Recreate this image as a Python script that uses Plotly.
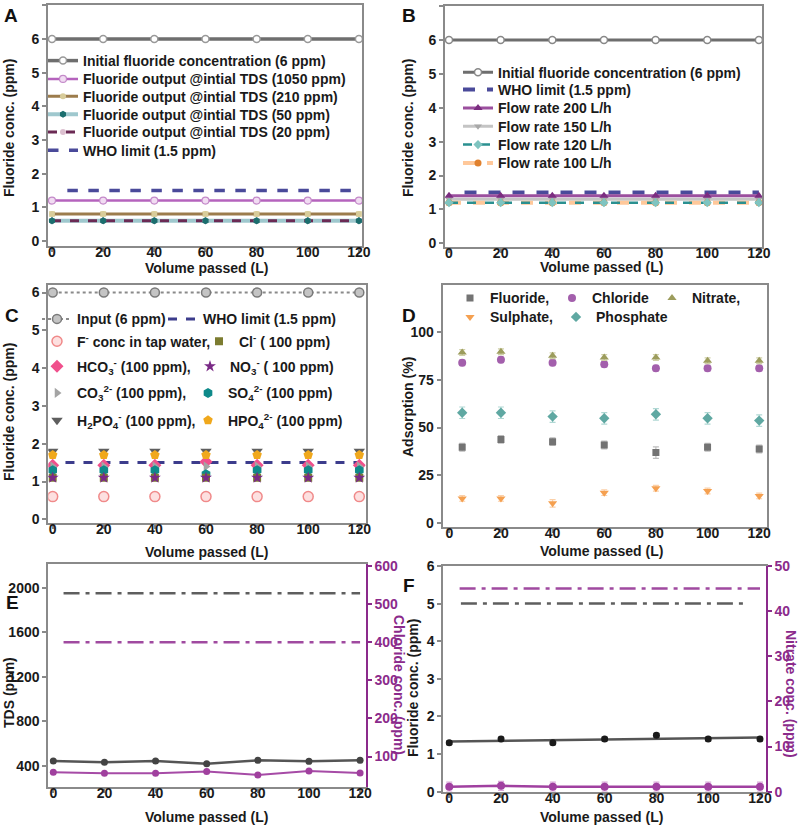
import numpy as np
import plotly.graph_objects as go

W, H = 800, 826
FONT = "Liberation Sans, Arial, sans-serif"
TXT = "#1a1a1a"
AXC = "#8a8a8a"
PURP = "#8b2a8b"

# ---------------- data ----------------
vol = [0, 20, 40, 60, 80, 100, 120]
vol_d = [5, 20, 40, 60, 80, 100, 120]
x_ticks = [0, 20, 40, 60, 80, 100, 120]

# Panel A
a_initial = [6, 6, 6, 6, 6, 6, 6]
a_tds1050 = [1.2, 1.2, 1.2, 1.2, 1.2, 1.2, 1.2]
a_tds210 = [0.8, 0.8, 0.8, 0.8, 0.8, 0.8, 0.8]
a_tds210_err = [0.06, 0.06, 0.06, 0.06, 0.06, 0.06, 0.06]
a_tds50 = [0.6, 0.6, 0.6, 0.6, 0.6, 0.6, 0.6]
a_tds20 = [0.6, 0.6, 0.6, 0.6, 0.6, 0.6, 0.6]
who_x_a = [6, 120]
who_y = [1.5, 1.5]

# Panel B
b_initial = [6, 6, 6, 6, 6, 6, 6]
b_flow200 = [1.4, 1.4, 1.4, 1.4, 1.4, 1.4, 1.4]
b_flow150 = [1.3, 1.3, 1.3, 1.3, 1.3, 1.3, 1.3]
b_flow120 = [1.2, 1.2, 1.2, 1.2, 1.2, 1.2, 1.2]
b_flow100 = [1.2, 1.2, 1.2, 1.2, 1.2, 1.2, 1.2]
who_x_b = [6, 120]

# Panel C
c_input = [6, 6, 6, 6, 6, 6, 6]
c_tap = [0.6, 0.6, 0.6, 0.6, 0.6, 0.6, 0.6]
c_cl = [1.1, 1.1, 1.1, 1.1, 1.1, 1.1, 1.1]
c_hco3 = [1.43, 1.43, 1.43, 1.52, 1.43, 1.43, 1.43]
c_no3 = [1.1, 1.1, 1.1, 1.1, 1.1, 1.1, 1.1]
c_co3 = [1.4, 1.4, 1.4, 1.4, 1.4, 1.4, 1.4]
c_so4 = [1.3, 1.3, 1.3, 1.19, 1.3, 1.3, 1.3]
c_h2po4 = [1.8, 1.8, 1.8, 1.8, 1.8, 1.8, 1.8]
c_hpo4 = [1.7, 1.7, 1.7, 1.7, 1.7, 1.7, 1.7]
who_x_c = [5, 120]

# Panel D (adsorption %)
d_fluoride = [39.7, 43.8, 42.6, 40.9, 36.9, 39.7, 38.8]
d_fluoride_err = [2, 2, 2, 2, 3, 2, 2]
d_chloride = [83.8, 85.4, 83.8, 83.0, 80.9, 80.9, 80.9]
d_chloride_err = [1.5, 1.5, 1.5, 1.5, 1.5, 1.5, 1.5]
d_nitrate = [89.2, 89.6, 87.5, 86.6, 86.6, 84.9, 84.9]
d_nitrate_err = [1.5, 1.5, 1.5, 1.5, 1.5, 1.5, 1.5]
d_sulphate = [13.0, 13.0, 10.4, 16.0, 18.3, 16.9, 14.3]
d_sulphate_err = [1.5, 1.5, 2, 1.5, 1.5, 1.5, 1.5]
d_phosphate = [57.7, 57.7, 55.7, 54.8, 56.9, 54.8, 53.6]
d_phosphate_err = [3, 3, 3, 3, 3, 3, 3]

# Panel E
e_tds = [442, 430, 442, 418, 448, 439, 448]
e_chloride = [59, 56, 56, 61, 52, 62, 57]
e_tds_limit_x = [4, 120]
e_tds_limit_y = [1950, 1950]
e_cl_limit_x = [4, 120]
e_cl_limit_y = [400, 400]

# Panel F
f_fluoride = [1.3, 1.4, 1.3, 1.4, 1.5, 1.4, 1.4]
f_fluoride_err = [0.05, 0.05, 0.05, 0.05, 0.05, 0.05, 0.05]
f_nitrate = [1.1, 1.3, 1.1, 1.1, 1.1, 1.1, 1.1]
f_nitrate_err = [1.0, 1.0, 1.0, 1.0, 1.0, 1.0, 1.0]
f_f_limit_x = [4.5, 115.5]
f_f_limit_y = [5, 5]
f_n_limit_x = [4, 120]
f_n_limit_y = [45, 45]

# ---------------- helpers ----------------
def dx(l, r):
    return [l / W, r / W]

def dy(t, b):
    return [1 - b / H, 1 - t / H]

tickfont = dict(family=FONT, size=14, weight="bold", color=TXT)
ax_common = dict(showline=True, linecolor=AXC, linewidth=2, ticks="outside", ticklen=4,
                 tickwidth=1.5, tickcolor=AXC, showgrid=False, zeroline=False, tickfont=tickfont,
                 automargin=False)

legends = {}
_cnt = [0]

def leg(text_x, row_y):
    _cnt[0] += 1
    name = "legend" if _cnt[0] == 1 else f"legend{_cnt[0]}"
    legends[name] = dict(x=(text_x - 40) / W, y=1 - row_y / H, xanchor="left", yanchor="middle",
                         bgcolor="rgba(0,0,0,0)", borderwidth=0,
                         font=dict(family=FONT, size=14, weight="bold", color=TXT))
    return name

fig = go.Figure()

def sc(**kw):
    fig.add_trace(go.Scatter(**kw))

# ---------------- Panel A ----------------
A = dict(xaxis="x", yaxis="y")
sc(x=vol, y=a_initial, mode="lines+markers", name="Initial fluoride concentration (6 ppm)",
   line=dict(color="#6e6e6e", width=3.5),
   marker=dict(symbol="circle", size=7, color="white", line=dict(color="#999999", width=1.5)),
   legend=leg(83, 61), **A)
sc(x=vol, y=a_tds1050, mode="lines+markers", name="Fluoride output @intial TDS (1050 ppm)",
   line=dict(color="#b563bd", width=2.5),
   marker=dict(symbol="circle", size=7, color="#f1dcf2", line=dict(color="#c48ac9", width=1.2)),
   legend=leg(83, 79.3), **A)
sc(x=vol, y=a_tds210, mode="lines+markers", name="Fluoride output @intial TDS (210 ppm)",
   line=dict(color="#9c7c4c", width=3),
   marker=dict(symbol="circle", size=6, color="#d8cc9a"),
   error_y=dict(type="data", array=a_tds210_err, color="#ddd3a0", thickness=1.5, width=3),
   legend=leg(83, 96.7), **A)
sc(x=vol, y=a_tds50, mode="lines+markers", name="Fluoride output @intial TDS (50 ppm)",
   line=dict(color="#9fc8ce", width=4),
   marker=dict(symbol="hexagon", size=7, color="#1b6e6e"),
   legend=leg(83, 114.7), **A)
sc(x=vol, y=a_tds20, mode="lines+markers", name="Fluoride output @intial TDS (20 ppm)",
   line=dict(color="#6b2a54", width=3, dash="dash"),
   marker=dict(symbol="circle", size=6, color="#dcc0d0"),
   legend=leg(83, 132.3), **A)
sc(x=vol, y=a_tds50, mode="markers", showlegend=False,
   marker=dict(symbol="hexagon", size=7, color="#1b6e6e"), **A)
sc(x=who_x_a, y=who_y, mode="lines", name="WHO limit (1.5 ppm)",
   line=dict(color="#4a4a9a", width=3.5, dash="dash"),
   legend=leg(83, 150.7), **A)

# ---------------- Panel B ----------------
B = dict(xaxis="x2", yaxis="y2")
sc(x=vol, y=b_initial, mode="lines+markers", name="Initial fluoride concentration (6 ppm)",
   line=dict(color="#6e6e6e", width=3),
   marker=dict(symbol="circle", size=7, color="white", line=dict(color="#888888", width=1.5)),
   legend=leg(498, 72.7), **B)
sc(x=who_x_b, y=who_y, mode="lines", name="WHO limit (1.5 ppm)",
   line=dict(color="#4a4a9a", width=4, dash="dash"),
   legend=leg(498, 90), **B)
sc(x=vol, y=b_flow150, mode="lines+markers", name="Flow rate 150 L/h",
   line=dict(color="#c4c4c4", width=3),
   marker=dict(symbol="triangle-down", size=7, color="#a8a8a8"),
   legend=leg(498, 126.7), **B)
sc(x=vol, y=b_flow200, mode="lines+markers", name="Flow rate 200 L/h",
   line=dict(color="#9b4f9e", width=3),
   marker=dict(symbol="triangle-up", size=8, color="#7b2d80"),
   legend=leg(498, 108.3), **B)
sc(x=vol, y=b_flow100, mode="lines+markers", name="Flow rate 100 L/h",
   line=dict(color="#ffc89a", width=4, dash="dash"),
   marker=dict(symbol="circle", size=7, color="#e0812e"),
   legend=leg(498, 163.3), **B)
sc(x=vol, y=b_flow120, mode="lines+markers", name="Flow rate 120 L/h",
   line=dict(color="#2a9090", width=2.5, dash="dash"),
   marker=dict(symbol="diamond", size=7, color="#7fc4c0"),
   legend=leg(498, 145), **B)

# ---------------- Panel C ----------------
C = dict(xaxis="x3", yaxis="y3")
c_rows = [319.3, 341.7, 366.7, 393.3, 420.7]
sc(x=vol, y=c_input, mode="lines+markers", name="Input (6 ppm)",
   line=dict(color="#8a8a8a", width=2, dash="dot"),
   marker=dict(symbol="circle", size=9, color="#c4c4c4", line=dict(color="#7a7a7a", width=1.5)),
   legend=leg(77, c_rows[0]), **C)
sc(x=who_x_c, y=who_y, mode="lines", name="WHO limit (1.5 ppm)",
   line=dict(color="#3c3c8c", width=3, dash="dash"),
   legend=leg(203, c_rows[0]), **C)
sc(x=vol, y=c_tap, mode="markers", name="F<sup>-</sup> conc in tap water,",
   marker=dict(symbol="circle", size=10, color="#fde0e0", line=dict(color="#f08a8a", width=1.5)),
   legend=leg(77, c_rows[1]), **C)
sc(x=vol, y=c_hco3, mode="markers", name="HCO<sub>3</sub><sup>-</sup> (100 ppm),",
   marker=dict(symbol="diamond", size=10, color="#f0508c"),
   legend=leg(77, c_rows[2]), **C)
sc(x=vol, y=c_co3, mode="markers", name="CO<sub>3</sub><sup>2-</sup> (100 ppm),",
   marker=dict(symbol="triangle-right", size=9, color="#a4a4a4"),
   legend=leg(77, c_rows[3]), **C)
sc(x=vol, y=c_so4, mode="markers", name="SO<sub>4</sub><sup>2-</sup> (100 ppm)",
   marker=dict(symbol="hexagon", size=10, color="#0e8a8a"),
   legend=leg(228, c_rows[3]), **C)
sc(x=vol, y=c_cl, mode="markers", name="Cl<sup>-</sup> ( 100 ppm)",
   marker=dict(symbol="square", size=8, color="#7c7c30"),
   legend=leg(239, c_rows[1]), **C)
sc(x=vol, y=c_no3, mode="markers", name="NO<sub>3</sub><sup>-</sup> ( 100 ppm)",
   marker=dict(symbol="star", size=9, color="#7a2a86"),
   legend=leg(230, c_rows[2]), **C)
sc(x=vol, y=c_h2po4, mode="markers", name="H<sub>2</sub>PO<sub>4</sub><sup>-</sup> (100 ppm),",
   marker=dict(symbol="triangle-down", size=10, color="#5e5e5e"),
   legend=leg(77, c_rows[4]), **C)
sc(x=vol, y=c_hpo4, mode="markers", name="HPO<sub>4</sub><sup>2-</sup> (100 ppm)",
   marker=dict(symbol="pentagon", size=10, color="#f0a81c"),
   legend=leg(228, c_rows[4]), **C)

# ---------------- Panel D ----------------
D = dict(xaxis="x4", yaxis="y4")
def derr(arr, col):
    return dict(type="data", array=arr, color=col, thickness=1.2, width=3)
sc(x=vol_d, y=d_fluoride, mode="markers", name="Fluoride,",
   marker=dict(symbol="square", size=7, color="#737373"),
   error_y=derr(d_fluoride_err, "#bdbdbd"), legend=leg(490, 298.3), **D)
sc(x=vol_d, y=d_chloride, mode="markers", name="Chloride",
   marker=dict(symbol="circle", size=8, color="#a35fac"),
   error_y=derr(d_chloride_err, "#d7b7db"), legend=leg(592, 298.3), **D)
sc(x=vol_d, y=d_nitrate, mode="markers", name="Nitrate,",
   marker=dict(symbol="triangle-up", size=8, color="#9c9c5c"),
   error_y=derr(d_nitrate_err, "#d0d0a8"), legend=leg(692, 298.3), **D)
sc(x=vol_d, y=d_sulphate, mode="markers", name="Sulphate,",
   marker=dict(symbol="triangle-down", size=8, color="#f5a050"),
   error_y=derr(d_sulphate_err, "#fbd0a8"), legend=leg(490, 317.3), **D)
sc(x=vol_d, y=d_phosphate, mode="markers", name="Phosphate",
   marker=dict(symbol="diamond", size=8, color="#5fa8a2"),
   error_y=derr(d_phosphate_err, "#b0d8d4"), legend=leg(596, 317.3), **D)

# ---------------- Panel E ----------------
E = dict(xaxis="x5", yaxis="y5")
E2 = dict(xaxis="x5", yaxis="y7")
DASHDOT = "16px,6px,4px,6px"
sc(x=e_tds_limit_x, y=e_tds_limit_y, mode="lines", showlegend=False,
   line=dict(color="#5e5e5e", width=2.5, dash=DASHDOT), **E)
sc(x=vol, y=e_tds, mode="lines+markers", showlegend=False,
   line=dict(color="#555555", width=2.5), marker=dict(symbol="circle", size=7, color="#444444"), **E)
sc(x=e_cl_limit_x, y=e_cl_limit_y, mode="lines", showlegend=False,
   line=dict(color="#a04aa0", width=2.5, dash=DASHDOT), **E2)
sc(x=vol, y=e_chloride, mode="lines+markers", showlegend=False,
   line=dict(color="#a64ba6", width=2), marker=dict(symbol="circle", size=7, color="#a0409e"), **E2)

# ---------------- Panel F ----------------
F = dict(xaxis="x6", yaxis="y6")
F2 = dict(xaxis="x6", yaxis="y8")
slope, icpt = np.polyfit(vol, f_fluoride, 1)
fit_x = [vol[0], vol[-1]]
fit_y = [icpt + slope * v for v in fit_x]
sc(x=f_f_limit_x, y=f_f_limit_y, mode="lines", showlegend=False,
   line=dict(color="#5e5e5e", width=2.5, dash=DASHDOT), **F)
sc(x=fit_x, y=fit_y, mode="lines", showlegend=False, line=dict(color="#555555", width=2.5), **F)
sc(x=vol, y=f_fluoride, mode="markers", showlegend=False,
   marker=dict(symbol="circle", size=7, color="#1a1a1a"),
   error_y=dict(type="data", array=f_fluoride_err, color="#555555", thickness=1.2, width=3), **F)
sc(x=f_n_limit_x, y=f_n_limit_y, mode="lines", showlegend=False,
   line=dict(color="#a04aa0", width=2.5, dash=DASHDOT), **F2)
sc(x=vol, y=f_nitrate, mode="lines+markers", showlegend=False,
   line=dict(color="#a040a0", width=2.5), marker=dict(symbol="circle", size=8, color="#a040a0"),
   error_y=dict(type="data", array=f_nitrate_err, color="#d8a8d8", thickness=1.2, width=3), **F2)

# ---------------- axes ----------------
def xax(l, r, rng, anchor):
    return dict(ax_common, domain=dx(l, r), range=rng, tickvals=x_ticks, anchor=anchor,
                mirror=True, ticklabelstandoff=-12)

def yax(t, b, rng, ticks, anchor, mirror=True):
    return dict(ax_common, domain=dy(t, b), range=rng, tickvals=ticks, anchor=anchor, mirror=mirror)

purple_ax = dict(ax_common, linecolor=PURP, tickcolor=PURP,
                 tickfont=dict(family=FONT, size=14, weight="bold", color=PURP))

layout = dict(
    width=W, height=H, margin=dict(l=0, r=0, t=0, b=0, autoexpand=False),
    paper_bgcolor="white", plot_bgcolor="white", showlegend=True,
    xaxis=xax(48, 362, [-1.56, 121.2], "y"),
    yaxis=yax(5.3, 246, [-0.15, 7], [0, 1, 2, 3, 4, 5, 6, 7], "x"),
    xaxis2=xax(445, 762, [-1.55, 121.2], "y2"),
    yaxis2=yax(6.1, 246.7, [-0.1, 7], [0, 1, 2, 3, 4, 5, 6, 7], "x2"),
    xaxis3=xax(48.3, 365.7, [-1.72, 122.5], "y3"),
    yaxis3=yax(285, 523.3, [-0.106, 6.2], [0, 1, 2, 3, 4, 5, 6], "x3"),
    xaxis4=xax(442.7, 766.7, [-2.55, 122.9], "y4"),
    yaxis4=yax(285, 526.7, [-1.78, 124.4], [0, 25, 50, 75, 100], "x4"),
    xaxis5=xax(48.3, 365.7, [-1.96, 122.2], "y5"),
    yaxis5=yax(564, 786.7, [211, 2213], [400, 800, 1200, 1600, 2000], "x5", mirror=False),
    yaxis7=dict(purple_ax, overlaying="y5", side="right", anchor="x5", range=[21, 605],
                tickvals=[100, 200, 300, 400, 500, 600]),
    xaxis6=xax(443.3, 765.7, [-2.3, 122.2], "y6"),
    yaxis6=yax(566, 791.7, [0, 6], [0, 1, 2, 3, 4, 5, 6], "x6", mirror=False),
    yaxis8=dict(purple_ax, overlaying="y6", side="right", anchor="x6", range=[0, 50],
                tickvals=[0, 10, 20, 30, 40, 50]),
)
layout.update(legends)
fig.update_layout(**layout)

# ---------------- text annotations (axis titles, panel letters) ----------------
def ann(text, x, y, size=14, color=TXT, angle=0):
    fig.add_annotation(text=text, x=x / W, y=1 - y / H, xref="paper", yref="paper",
                       showarrow=False, xanchor="center", yanchor="middle", textangle=angle,
                       font=dict(family=FONT, size=size, weight="bold", color=color))

ann("Fluoride conc. (ppm)", 9, 128, angle=-90)
ann("Volume passed (L)", 206, 268)
ann("Fluoride conc. (ppm)", 408, 128, angle=-90)
ann("Volume passed (L)", 601, 267)
ann("Fluoride conc. (ppm)", 9, 412, angle=-90)
ann("Volume passed (L)", 206, 552)
ann("Adsorption (%)", 408, 407, angle=-90)
ann("Volume passed (L)", 601, 551)
ann("TDS (ppm)", 9, 693, angle=-90)
ann("Chloride conc. (ppm)", 399, 685, color=PURP, angle=90)
ann("Volume passed (L)", 206, 817)
ann("Fluoride conc. (ppm)", 413, 688, angle=-90)
ann("Nitrate conc. (ppm)", 791, 694, color=PURP, angle=90)
ann("Volume passed (L)", 601, 817)

for letter, x, y in [("A", 11, 16), ("B", 409, 16), ("C", 12, 315),
                     ("D", 409, 315), ("E", 12, 602), ("F", 409, 585)]:
    ann(letter, x, y, size=19, color="#111111")

fig.write_html("out.html", config={"displayModeBar": False},
               post_script="document.body.style.margin='0px';")
